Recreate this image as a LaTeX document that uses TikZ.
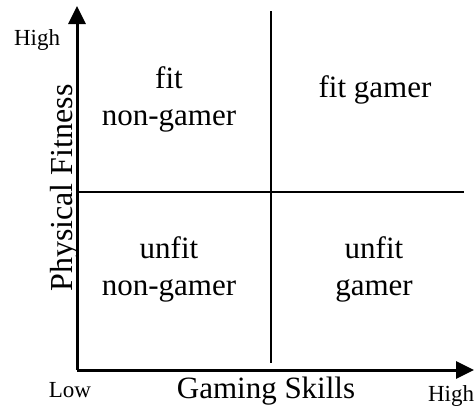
\documentclass[tikz,border=0pt]{standalone}
\usepackage{fontspec}
\setmainfont{Liberation Serif}
\usetikzlibrary{arrows.meta}

\begin{document}
\begin{tikzpicture}[x=1pt, y=-1pt, >={Triangle[length=18pt, width=17pt]}]

  % Styles
  \tikzset{
    axis/.style={line width=3pt, ->},
    divider/.style={line width=1.8pt},
    quadrant label/.style={font=\fontsize{31}{37}\selectfont, align=center, anchor=base, inner sep=0pt},
    axis label/.style={font=\fontsize{31}{37}\selectfont, anchor=base, inner sep=0pt},
    end label/.style={font=\fontsize{23}{27}\selectfont, anchor=base, inner sep=0pt}
  }

  \useasboundingbox (0,0) rectangle (476,407);

  % --- AXES ---
  \coordinate (O) at (77,370);
  \coordinate (xmax) at (474,370);
  \coordinate (ymax) at (77,6);
  \draw[axis] (O) -- (xmax);
  \draw[axis] (O) -- (ymax);

  % --- QUADRANT DIVIDERS ---
  \coordinate (vtop) at (271,11);
  \coordinate (vbot) at (271,363);
  \coordinate (hleft) at (77,192);
  \coordinate (hright) at (464,192);
  \draw[divider] (vtop) -- (vbot);
  \draw[divider] (hleft) -- (hright);

  % --- AXIS LABELS ---
  \node[axis label] (xlabel) at (266,398) {Gaming Skills};
  \node[axis label, font=\fontsize{32}{38}\selectfont, rotate=90] (ylabel) at (72,188) {Physical Fitness};
  \node[end label] (xlow) at (70,397) {Low};
  \node[end label] (xhigh) at (451,401) {High};
  \node[end label] (yhigh) at (37,45) {High};

  % --- QUADRANTS ---
  \node[quadrant label] (fitnon) at (169,125) {fit\\non-gamer};
  \node[quadrant label] (fitgam) at (375,97) {fit gamer};
  \node[quadrant label] (unfitnon) at (169,295) {unfit\\non-gamer};
  \node[quadrant label] (unfitgam) at (374,295) {unfit\\gamer};

\end{tikzpicture}
\end{document}
